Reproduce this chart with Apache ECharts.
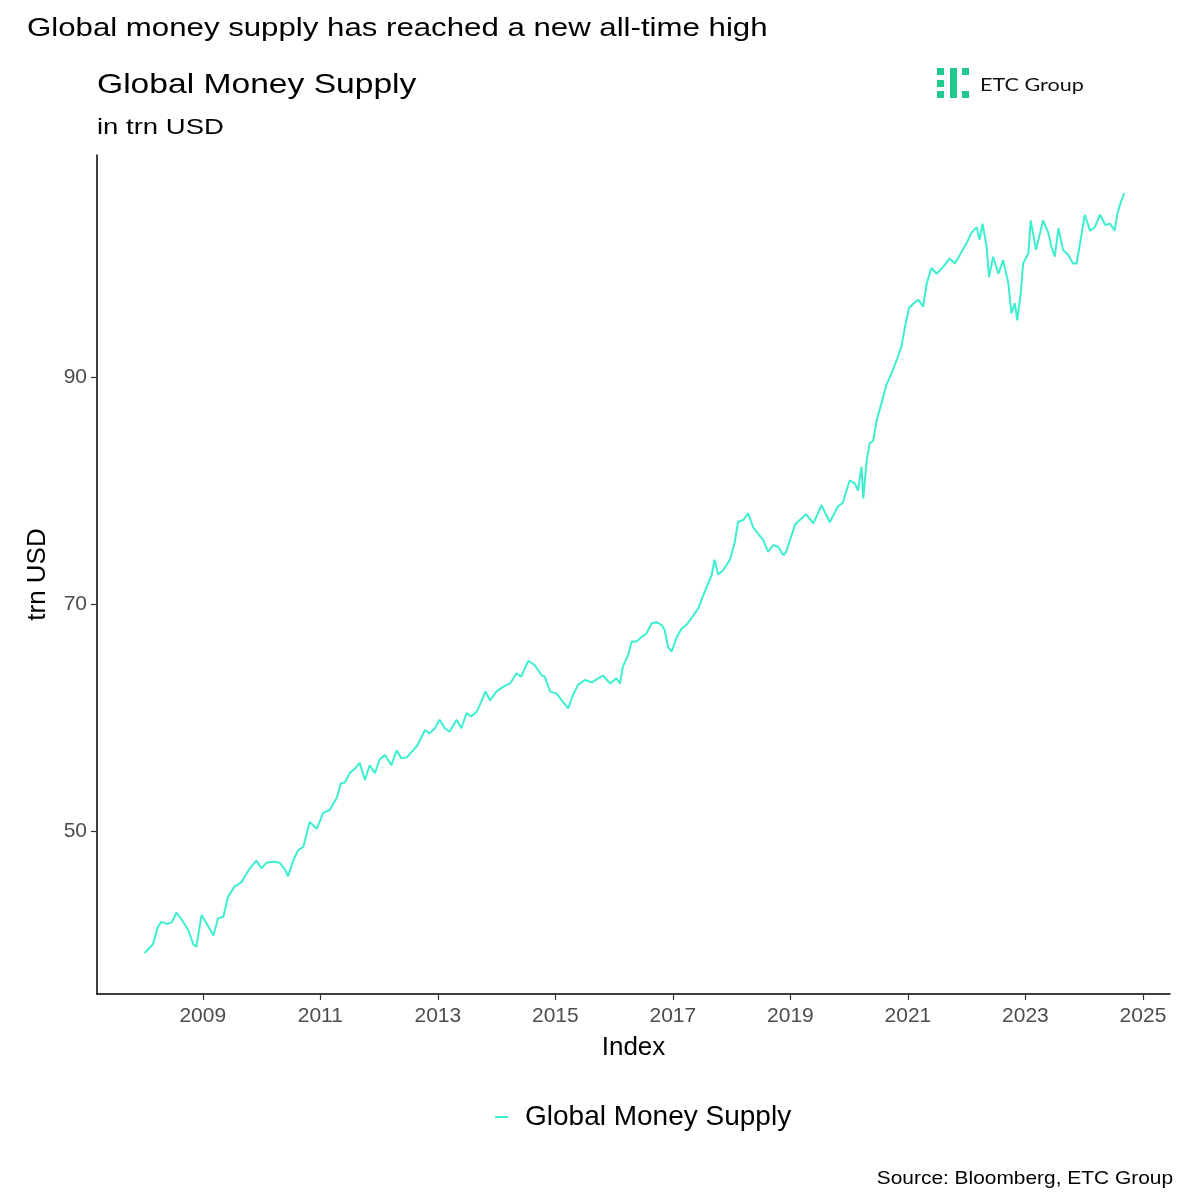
<!DOCTYPE html>
<html>
<head>
<meta charset="utf-8">
<script src="https://cdn.jsdelivr.net/npm/echarts@6/dist/echarts.min.js"></script>
<style>html,body{margin:0;padding:0;background:#fff}#c{width:1200px;height:1200px}</style>
</head>
<body>
<div id="c"></div>
<script>
// decimal years (time of observation) and values in trn USD
const years = [
2008.01,2008.15,2008.24,2008.30,2008.40,2008.48,2008.55,2008.64,2008.75,2008.84,2008.89,2008.98,
2009.06,2009.18,2009.26,2009.35,2009.43,2009.54,2009.66,2009.80,2009.91,
2010.00,2010.08,2010.20,2010.31,2010.40,2010.45,2010.54,2010.62,2010.71,2010.82,2010.94,
2011.05,2011.16,2011.28,2011.35,2011.42,2011.50,2011.59,2011.67,2011.76,2011.84,2011.93,
2012.01,2012.10,2012.21,2012.30,2012.38,2012.47,2012.58,2012.66,2012.78,2012.86,2012.95,
2013.03,2013.12,2013.20,2013.32,2013.40,2013.49,2013.57,2013.66,2013.74,2013.81,2013.89,
2014.00,2014.11,2014.23,2014.34,2014.42,2014.54,2014.65,2014.77,2014.82,2014.91,
2015.02,2015.11,2015.22,2015.30,2015.39,2015.50,2015.62,2015.73,2015.81,2015.93,
2016.04,2016.10,2016.15,2016.24,2016.30,2016.38,2016.47,2016.55,2016.64,2016.72,2016.81,2016.86,2016.92,2016.98,
2017.06,2017.15,2017.23,2017.35,2017.43,2017.52,2017.60,2017.66,2017.71,2017.77,2017.86,2017.97,
2018.05,2018.11,2018.20,2018.28,2018.37,2018.45,2018.54,2018.62,2018.71,2018.79,2018.88,2018.93,2018.99,
2019.08,2019.16,2019.27,2019.39,2019.53,2019.67,2019.81,2019.89,
2020.01,2020.10,2020.15,2020.21,2020.24,2020.30,2020.35,2020.41,2020.47,2020.55,2020.64,2020.72,2020.81,2020.89,2020.95,
2021.02,2021.10,2021.18,2021.26,2021.32,2021.40,2021.49,2021.60,2021.71,2021.80,2021.91,
2022.00,2022.08,2022.17,2022.22,2022.27,2022.34,2022.38,2022.45,2022.54,2022.62,2022.71,2022.76,2022.82,2022.86,2022.92,2022.96,
2023.05,2023.09,2023.18,2023.30,2023.39,2023.44,2023.50,2023.56,2023.64,2023.73,2023.81,2023.87,2023.93,
2024.01,2024.10,2024.18,2024.27,2024.36,2024.44,2024.52,2024.56,2024.61,2024.68
];
const moneySupply = [
39.25,40.0,41.6,42.0,41.8,42.0,42.8,42.2,41.3,40.0,39.8,42.6,
41.9,40.8,42.3,42.45,44.2,45.1,45.5,46.7,47.4,
46.7,47.2,47.3,47.2,46.6,46.0,47.4,48.3,48.6,50.8,50.2,
51.6,51.85,52.9,54.2,54.3,55.1,55.5,56.0,54.5,55.8,55.1,
56.3,56.7,55.8,57.1,56.4,56.5,57.1,57.6,58.9,58.6,59.05,
59.8,59.05,58.75,59.8,59.05,60.4,60.1,60.5,61.4,62.3,61.5,
62.3,62.7,63.0,63.9,63.6,65.0,64.6,63.7,63.6,62.3,
62.1,61.5,60.8,62.0,62.9,63.3,63.1,63.45,63.7,63.0,
63.45,63.0,64.5,65.5,66.7,66.7,67.1,67.4,68.3,68.4,68.15,67.7,66.2,65.8,
67.0,67.85,68.15,69.0,69.6,70.8,71.8,72.55,73.9,72.6,73.0,73.9,
75.35,77.25,77.4,78.0,76.7,76.2,75.6,74.6,75.2,75.05,74.3,74.6,75.6,
77.0,77.4,77.9,77.1,78.7,77.2,78.6,78.9,
80.9,80.6,80.0,82.1,79.3,82.7,84.15,84.4,86.2,87.7,89.4,90.3,91.5,92.7,94.4,
96.1,96.5,96.8,96.2,98.25,99.6,99.1,99.7,100.45,100.0,101.0,
101.8,102.7,103.2,102.1,103.5,101.5,98.8,100.6,99.1,100.3,98.25,95.6,96.5,95.0,97.4,100.0,
100.9,103.8,101.2,103.8,102.7,101.5,100.6,103.1,101.2,100.75,100.0,100.0,101.8,
104.3,102.9,103.2,104.3,103.4,103.5,102.9,104.3,105.2,106.2
];
const xTicks = [2009, 2011, 2013, 2015, 2017, 2019, 2021, 2023, 2025];
const yTicks = [50, 70, 90];
const seriesName = 'Global Money Supply';

const FONT = '"Liberation Sans", Arial, sans-serif';
const chart = echarts.init(document.getElementById('c'), null, {renderer: 'canvas'});
const green = '#22C98C';
function txt(text, x, y, size, sx, align) {
  return {type: 'text', x: x, y: y, scaleX: sx, scaleY: 1, z: 10,
    style: {text: text, fontFamily: FONT, fontSize: size, fill: '#000',
      align: align || 'left', verticalAlign: 'middle'}};
}
chart.setOption({
  backgroundColor: '#ffffff',
  animation: false,
  graphic: [
    txt('Global money supply has reached a new all-time high', 27, 29, 26, 1.2),
    txt('Global Money Supply', 97, 85, 28, 1.2),
    txt('in trn USD', 97, 128, 22, 1.25),
    txt('Source: Bloomberg, ETC Group', 1173, 1179, 19, 1.1, 'right'),
    {type: 'rect', shape: {x: 937, y: 68, width: 7, height: 7}, style: {fill: green}},
    {type: 'rect', shape: {x: 937, y: 80, width: 7, height: 7}, style: {fill: green}},
    {type: 'rect', shape: {x: 937, y: 91, width: 7, height: 7}, style: {fill: green}},
    {type: 'rect', shape: {x: 950, y: 68, width: 7, height: 30}, style: {fill: green}},
    {type: 'rect', shape: {x: 962, y: 68, width: 7, height: 7}, style: {fill: green}},
    {type: 'rect', shape: {x: 962, y: 91, width: 7, height: 7}, style: {fill: green}},
    {type: 'text', x: 980, y: 85, scaleX: 1.2,
      style: {text: 'ETC Group', fontFamily: 'Lato, "Open Sans", sans-serif',
      fontSize: 18, fill: '#111', verticalAlign: 'middle'}}
  ],
  legend: {
    data: [seriesName], left: 490, top: 1098, itemWidth: 13, itemHeight: 2, itemGap: 10,
    icon: 'rect',
    textStyle: {fontFamily: FONT, fontSize: 28, color: '#000', padding: [0, 0, 0, 12]}
  },
  grid: {left: 97, right: 30, top: 155, bottom: 206, containLabel: false},
  xAxis: {
    type: 'value', min: 2007.2, max: 2025.46,
    name: 'Index', nameLocation: 'middle', nameGap: 41,
    nameTextStyle: {fontFamily: FONT, fontSize: 26, color: '#000'},
    axisLine: {show: true, onZero: false, lineStyle: {color: '#000', width: 1.5}},
    axisTick: {show: true, length: 6, lineStyle: {color: '#333', width: 1.2}, customValues: xTicks},
    axisLabel: {fontFamily: FONT, fontSize: 21, color: '#4d4d4d', margin: 12, customValues: xTicks,
      formatter: v => String(Math.round(v))},
    splitLine: {show: false}
  },
  yAxis: {
    type: 'value', min: 35.64, max: 109.56,
    name: 'trn USD', nameLocation: 'middle', nameGap: 46, nameRotate: 90,
    nameTextStyle: {fontFamily: FONT, fontSize: 26, color: '#000'},
    axisLine: {show: true, onZero: false, lineStyle: {color: '#000', width: 1.5}},
    axisTick: {show: true, length: 6, lineStyle: {color: '#333', width: 1.2}, customValues: yTicks},
    axisLabel: {fontFamily: FONT, fontSize: 21, color: '#4d4d4d', margin: 10, customValues: yTicks},
    splitLine: {show: false}
  },
  series: [{
    name: seriesName, type: 'line', showSymbol: false, symbol: 'none',
    data: years.map((y, i) => [y, moneySupply[i]]),
    lineStyle: {color: '#3DEFCF', width: 2},
    itemStyle: {color: '#3DEFCF'}
  }]
});
</script>
</body>
</html>
